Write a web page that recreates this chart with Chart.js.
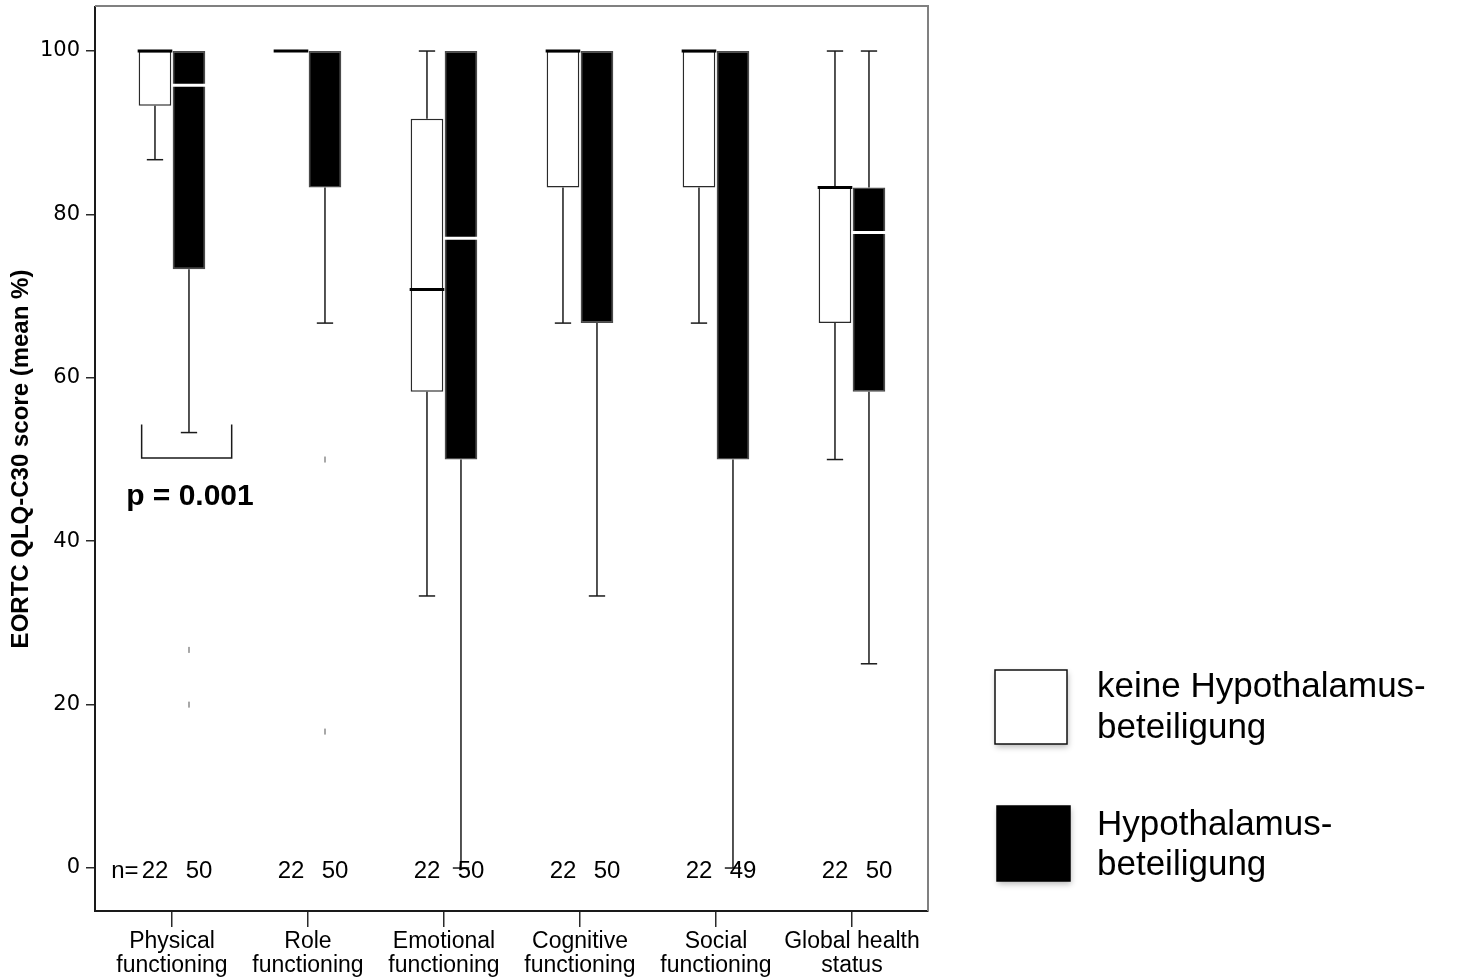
<!DOCTYPE html>
<html>
<head>
<meta charset="utf-8">
<script src="https://cdn.jsdelivr.net/npm/chart.js@4.4.1/dist/chart.umd.min.js"></script>
<style>
  html, body { margin: 0; padding: 0; background: #ffffff; }
  canvas { display: block; }
</style>
</head>
<body>
<canvas id="qolChart" width="1461" height="979"></canvas>
<script>
// Categories of the EORTC QLQ-C30 functional scales
const categoryLabels = [
  ['Physical', 'functioning'],
  ['Role', 'functioning'],
  ['Emotional', 'functioning'],
  ['Cognitive', 'functioning'],
  ['Social', 'functioning'],
  ['Global health', 'status']
];
const yTickValues = [0, 20, 40, 60, 80, 100];
const seriesNames = [
  ['keine Hypothalamus-', 'beteiligung'],
  ['Hypothalamus-', 'beteiligung']
];

// Group 1: keine Hypothalamusbeteiligung
const noneQ1      = [93.3, 100, 58.3, 83.3, 83.3, 66.7];
const noneQ3      = [100, 100, 91.7, 100, 100, 83.3];
const noneMedian  = [100, 100, 70.8, 100, 100, 83.3];
const noneLow     = [86.7, 100, 33.3, 66.7, 66.7, 50];
const noneHigh    = [100, 100, 100, 100, 100, 100];
const noneN       = [22, 22, 22, 22, 22, 22];
const noneOutliers = [[], [], [], [], [], []];

// Group 2: Hypothalamusbeteiligung
const hypoQ1      = [73.3, 83.3, 50, 66.7, 50, 58.3];
const hypoQ3      = [100, 100, 100, 100, 100, 83.3];
const hypoMedian  = [95.8, 100, 77.1, 100, 100, 77.8];
const hypoLow     = [53.3, 66.7, 0, 33.3, 0, 25];
const hypoHigh    = [100, 100, 100, 100, 100, 100];
const hypoN       = [50, 50, 50, 50, 49, 50];
const hypoOutliers = [[26.7, 20], [50, 16.7], [], [], [], []];

const pValueText = 'p = 0.001';

const groups = [
  { q1: noneQ1, q3: noneQ3, median: noneMedian, low: noneLow, high: noneHigh, n: noneN, outliers: noneOutliers,
    fill: '#ffffff', edge: '#2a2a2a', medianColor: '#000000', nShift: 0 },
  { q1: hypoQ1, q3: hypoQ3, median: hypoMedian, low: hypoLow, high: hypoHigh, n: hypoN, outliers: hypoOutliers,
    fill: '#000000', edge: '#4a4a4a', medianColor: '#ffffff', nShift: 10 }
];

const ARIAL = '"Liberation Sans", Arial, sans-serif';

function line(ctx, x1, y1, x2, y2) {
  ctx.beginPath();
  ctx.moveTo(x1, y1);
  ctx.lineTo(x2, y2);
  ctx.stroke();
}

// Whiskers, medians and outliers on top of the floating IQR bars
const boxplotParts = {
  id: 'boxplotParts',
  afterDatasetsDraw(chart) {
    const ctx = chart.ctx;
    const yS = chart.scales.y;
    ctx.save();
    groups.forEach((g, di) => {
      const meta = chart.getDatasetMeta(di);
      meta.data.forEach((bar, i) => {
        const cx = bar.x;
        const w = bar.width;
        const capHalf = w / 4;
        ctx.strokeStyle = '#1a1a1a';
        ctx.lineWidth = 1.5;
        ctx.lineCap = 'butt';
        if (g.low[i] < g.q1[i]) {
          const yl = yS.getPixelForValue(g.low[i]);
          line(ctx, cx, yS.getPixelForValue(g.q1[i]), cx, yl);
          line(ctx, cx - capHalf, yl, cx + capHalf, yl);
        }
        if (g.high[i] > g.q3[i]) {
          const yh = yS.getPixelForValue(g.high[i]);
          line(ctx, cx, yS.getPixelForValue(g.q3[i]), cx, yh);
          line(ctx, cx - capHalf, yh, cx + capHalf, yh);
        }
        // a white median on the upper edge of a black box blends into the background
        const hidden = g.medianColor === '#ffffff' && g.median[i] >= g.q3[i];
        if (!hidden) {
          const ym = yS.getPixelForValue(g.median[i]);
          ctx.strokeStyle = g.medianColor;
          ctx.lineWidth = 3;
          line(ctx, cx - w / 2 - 1, ym, cx + w / 2 + 1, ym);
        }
        ctx.strokeStyle = '#a8a8a8';
        ctx.lineWidth = 2;
        g.outliers[i].forEach(v => {
          const yo = yS.getPixelForValue(v);
          line(ctx, cx, yo - 3, cx, yo + 3);
        });
      });
    });
    ctx.restore();
  }
};

// Frame, group sizes, significance bracket and legend
const decorations = {
  id: 'decorations',
  afterDraw(chart) {
    const ctx = chart.ctx;
    const a = chart.chartArea;
    const xS = chart.scales.x;
    const yS = chart.scales.y;
    ctx.save();

    // top and right frame lines
    ctx.strokeStyle = '#808080';
    ctx.lineWidth = 2;
    line(ctx, a.left, a.top - 1, a.right + 1, a.top - 1);
    line(ctx, a.right, a.top - 1, a.right, a.bottom);

    // group sizes along the zero line
    ctx.fillStyle = '#000';
    ctx.font = '24px ' + ARIAL;
    ctx.textBaseline = 'middle';
    const yN = yS.getPixelForValue(0) + 3;
    groups.forEach((g, di) => {
      const meta = chart.getDatasetMeta(di);
      meta.data.forEach((bar, i) => {
        ctx.textAlign = 'center';
        ctx.fillText(String(g.n[i]), bar.x + g.nShift, yN);
        if (di === 0 && i === 0) {
          const half = ctx.measureText(String(g.n[i])).width / 2;
          ctx.textAlign = 'right';
          ctx.fillText('n=', bar.x - half - 3, yN);
        }
      });
    });

    // significance bracket for physical functioning
    ctx.strokeStyle = '#1a1a1a';
    ctx.lineWidth = 1.5;
    const bx1 = xS.getPixelForValue(-0.223);
    const bx2 = xS.getPixelForValue(0.439);
    const byTop = yS.getPixelForValue(54.3);
    const byBot = yS.getPixelForValue(50.2);
    ctx.beginPath();
    ctx.moveTo(bx1, byTop);
    ctx.lineTo(bx1, byBot);
    ctx.lineTo(bx2, byBot);
    ctx.lineTo(bx2, byTop);
    ctx.stroke();
    ctx.font = 'bold 30px ' + ARIAL;
    ctx.textAlign = 'center';
    ctx.textBaseline = 'middle';
    ctx.fillText(pValueText, xS.getPixelForValue(0.132), yS.getPixelForValue(45.4));

    // legend
    const swatches = [
      { x: 995, y: 670, w: 72, h: 74, fill: '#ffffff', stroke: '#111111', textY: [697, 738] },
      { x: 997, y: 806, w: 73, h: 75, fill: '#000000', stroke: '#000000', textY: [835, 875] }
    ];
    swatches.forEach((s, k) => {
      ctx.save();
      ctx.shadowColor = 'rgba(0,0,0,0.28)';
      ctx.shadowBlur = 6;
      ctx.shadowOffsetX = 1;
      ctx.shadowOffsetY = 3;
      ctx.fillStyle = s.fill;
      ctx.fillRect(s.x, s.y, s.w, s.h);
      ctx.restore();
      ctx.strokeStyle = s.stroke;
      ctx.lineWidth = 1.5;
      ctx.strokeRect(s.x, s.y, s.w, s.h);
      ctx.fillStyle = '#000';
      ctx.font = '35px ' + ARIAL;
      ctx.textAlign = 'left';
      ctx.textBaseline = 'alphabetic';
      seriesNames[k].forEach((t, j) => ctx.fillText(t, 1097, s.textY[j]));
    });

    ctx.restore();
  }
};

const datasets = groups.map((g, di) => ({
  label: seriesNames[di].join(''),
  data: g.q1.map((v, i) => ({ x: i, y: [v, g.q3[i]] })),
  backgroundColor: g.fill,
  borderColor: g.edge,
  borderWidth: 1.5,
  borderSkipped: false,
  categoryPercentage: 0.5,
  barPercentage: 0.96
}));

new Chart(document.getElementById('qolChart'), {
  type: 'bar',
  data: { datasets },
  plugins: [boxplotParts, decorations],
  options: {
    responsive: false,
    animation: false,
    devicePixelRatio: 1,
    layout: { padding: { top: 7, right: 533, left: 0, bottom: 0 } },
    plugins: { legend: { display: false }, tooltip: { enabled: false } },
    scales: {
      x: {
        type: 'linear',
        offset: false,
        min: -0.566,
        max: 5.559,
        afterBuildTicks: s => { s.ticks = categoryLabels.map((c, i) => ({ value: i })); },
        afterFit: s => { s.height = 68; s.paddingLeft = 0; s.paddingRight = 0; },
        ticks: {
          callback: (v) => categoryLabels[v],
          color: '#000',
          font: { family: ARIAL, size: 23, lineHeight: '24px' },
          padding: 3,
          maxRotation: 0,
          autoSkip: false
        },
        grid: { offset: false, drawOnChartArea: false, tickLength: 16, color: '#2a2a2a', lineWidth: 1.5 },
        border: { display: true, color: '#1a1a1a', width: 2 }
      },
      y: {
        type: 'linear',
        min: -5.26,
        max: 105.39,
        afterBuildTicks: s => { s.ticks = yTickValues.map(v => ({ value: v })); },
        afterFit: s => { s.width = 95; s.paddingTop = 0; s.paddingBottom = 0; },
        ticks: {
          color: '#000',
          font: { family: '"DejaVu Sans", sans-serif', size: 21 },
          padding: 6
        },
        grid: { drawOnChartArea: false, tickLength: 9, color: '#2a2a2a', lineWidth: 1.5 },
        border: { display: true, color: '#1a1a1a', width: 2 },
        title: {
          display: true,
          text: 'EORTC QLQ-C30 score (mean %)',
          color: '#000',
          font: { family: ARIAL, size: 24, weight: 'bold' },
          padding: { top: 7, bottom: 0 }
        }
      }
    }
  }
});
</script>
</body>
</html>
